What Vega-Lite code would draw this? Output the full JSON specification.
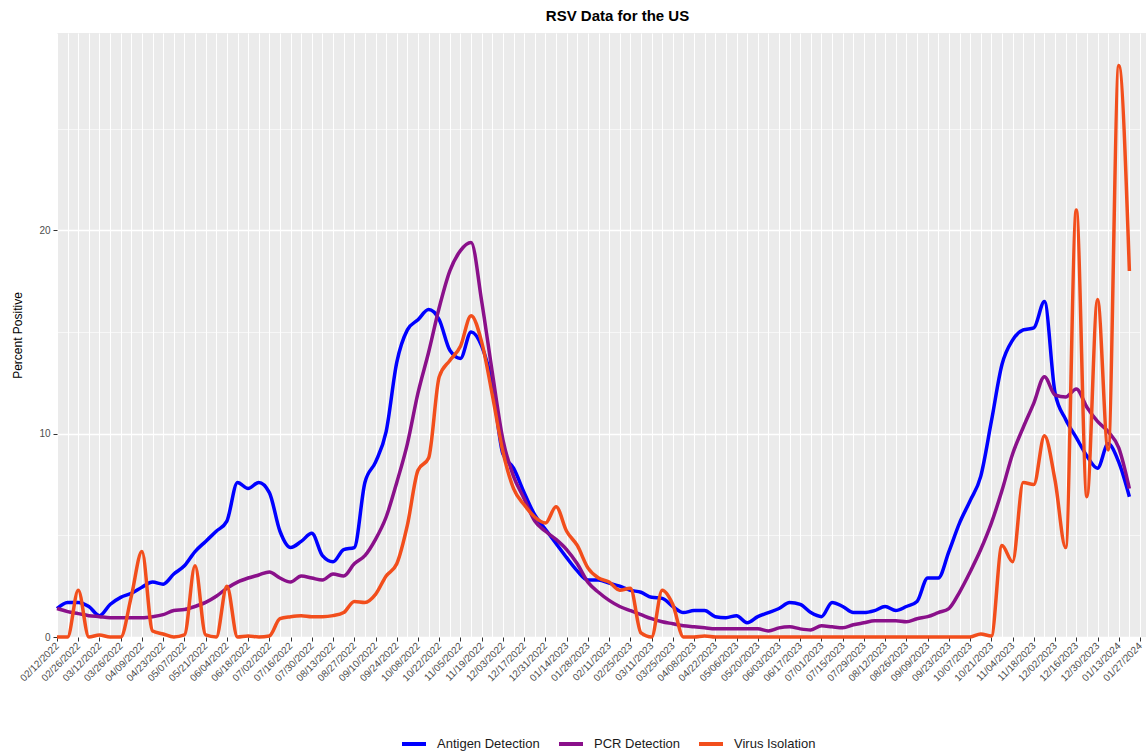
{
"$schema": "https://vega.github.io/schema/vega-lite/v6.json",
"width": 1089, "height": 604,
"autosize": {"type": "none"},
"padding": {"left": 57, "top": 33, "right": 0, "bottom": 117},
"background": "white",
"title": {"text": "RSV Data for the US", "fontSize": 15, "fontWeight": "bold", "font": "Liberation Sans", "color": "#000000", "anchor": "middle", "dx": 16, "offset": 9},
"data": {"values": [
{"date":"02/12/2022","antigen":1.4,"pcr":1.4,"virus":0},
{"date":"02/19/2022","antigen":1.7,"pcr":1.25,"virus":0},
{"date":"02/26/2022","antigen":1.7,"pcr":1.15,"virus":2.3},
{"date":"03/05/2022","antigen":1.5,"pcr":1.05,"virus":0},
{"date":"03/12/2022","antigen":1.05,"pcr":1.0,"virus":0.1},
{"date":"03/19/2022","antigen":1.6,"pcr":0.95,"virus":0},
{"date":"03/26/2022","antigen":1.95,"pcr":0.95,"virus":0},
{"date":"04/02/2022","antigen":2.15,"pcr":0.95,"virus":2.0},
{"date":"04/09/2022","antigen":2.45,"pcr":0.95,"virus":4.2},
{"date":"04/16/2022","antigen":2.7,"pcr":1.0,"virus":0.3},
{"date":"04/23/2022","antigen":2.6,"pcr":1.1,"virus":0.15},
{"date":"04/30/2022","antigen":3.1,"pcr":1.3,"virus":0},
{"date":"05/07/2022","antigen":3.5,"pcr":1.35,"virus":0.1},
{"date":"05/14/2022","antigen":4.2,"pcr":1.5,"virus":3.5},
{"date":"05/21/2022","antigen":4.7,"pcr":1.7,"virus":0.1},
{"date":"05/28/2022","antigen":5.2,"pcr":2.0,"virus":0},
{"date":"06/04/2022","antigen":5.7,"pcr":2.4,"virus":2.5},
{"date":"06/11/2022","antigen":7.6,"pcr":2.7,"virus":0},
{"date":"06/18/2022","antigen":7.3,"pcr":2.9,"virus":0.05},
{"date":"06/25/2022","antigen":7.6,"pcr":3.05,"virus":0},
{"date":"07/02/2022","antigen":7.1,"pcr":3.2,"virus":0.05},
{"date":"07/09/2022","antigen":5.2,"pcr":2.9,"virus":0.9},
{"date":"07/16/2022","antigen":4.4,"pcr":2.7,"virus":1.0},
{"date":"07/23/2022","antigen":4.7,"pcr":3.0,"virus":1.05},
{"date":"07/30/2022","antigen":5.1,"pcr":2.9,"virus":1.0},
{"date":"08/06/2022","antigen":4.0,"pcr":2.8,"virus":1.0},
{"date":"08/13/2022","antigen":3.7,"pcr":3.1,"virus":1.05},
{"date":"08/20/2022","antigen":4.3,"pcr":3.0,"virus":1.2},
{"date":"08/27/2022","antigen":4.4,"pcr":3.6,"virus":1.75},
{"date":"09/03/2022","antigen":7.6,"pcr":4.0,"virus":1.7},
{"date":"09/10/2022","antigen":8.6,"pcr":4.8,"virus":2.1},
{"date":"09/17/2022","antigen":10.1,"pcr":5.9,"virus":3.0},
{"date":"09/24/2022","antigen":13.5,"pcr":7.6,"virus":3.6},
{"date":"10/01/2022","antigen":15.1,"pcr":9.5,"virus":5.5},
{"date":"10/08/2022","antigen":15.6,"pcr":12.0,"virus":8.2},
{"date":"10/15/2022","antigen":16.1,"pcr":14.0,"virus":8.8},
{"date":"10/22/2022","antigen":15.6,"pcr":16.2,"virus":12.8},
{"date":"10/29/2022","antigen":14.1,"pcr":18.0,"virus":13.6},
{"date":"11/05/2022","antigen":13.7,"pcr":19.0,"virus":14.3},
{"date":"11/12/2022","antigen":15.0,"pcr":19.4,"virus":15.8},
{"date":"11/19/2022","antigen":14.3,"pcr":16.5,"virus":14.5},
{"date":"11/26/2022","antigen":12.4,"pcr":13.0,"virus":11.9},
{"date":"12/03/2022","antigen":9.0,"pcr":9.7,"virus":9.1},
{"date":"12/10/2022","antigen":8.3,"pcr":7.9,"virus":7.3},
{"date":"12/17/2022","antigen":7.1,"pcr":6.8,"virus":6.5},
{"date":"12/24/2022","antigen":6.0,"pcr":5.7,"virus":5.9},
{"date":"12/31/2022","antigen":5.3,"pcr":5.2,"virus":5.6},
{"date":"01/07/2023","antigen":4.6,"pcr":4.8,"virus":6.4},
{"date":"01/14/2023","antigen":3.9,"pcr":4.3,"virus":5.2},
{"date":"01/21/2023","antigen":3.25,"pcr":3.6,"virus":4.5},
{"date":"01/28/2023","antigen":2.8,"pcr":2.7,"virus":3.4},
{"date":"02/04/2023","antigen":2.8,"pcr":2.2,"virus":2.9},
{"date":"02/11/2023","antigen":2.65,"pcr":1.8,"virus":2.7},
{"date":"02/18/2023","antigen":2.5,"pcr":1.5,"virus":2.3},
{"date":"02/25/2023","antigen":2.3,"pcr":1.3,"virus":2.4},
{"date":"03/04/2023","antigen":2.2,"pcr":1.1,"virus":0.2},
{"date":"03/11/2023","antigen":1.95,"pcr":0.9,"virus":0},
{"date":"03/18/2023","antigen":1.9,"pcr":0.75,"virus":2.3},
{"date":"03/25/2023","antigen":1.5,"pcr":0.65,"virus":1.6},
{"date":"04/01/2023","antigen":1.2,"pcr":0.55,"virus":0},
{"date":"04/08/2023","antigen":1.3,"pcr":0.5,"virus":0},
{"date":"04/15/2023","antigen":1.3,"pcr":0.45,"virus":0.05},
{"date":"04/22/2023","antigen":1.0,"pcr":0.4,"virus":0},
{"date":"04/29/2023","antigen":0.95,"pcr":0.4,"virus":0},
{"date":"05/06/2023","antigen":1.05,"pcr":0.4,"virus":0},
{"date":"05/13/2023","antigen":0.7,"pcr":0.4,"virus":0},
{"date":"05/20/2023","antigen":1.0,"pcr":0.4,"virus":0},
{"date":"05/27/2023","antigen":1.2,"pcr":0.3,"virus":0},
{"date":"06/03/2023","antigen":1.4,"pcr":0.45,"virus":0},
{"date":"06/10/2023","antigen":1.7,"pcr":0.5,"virus":0},
{"date":"06/17/2023","antigen":1.6,"pcr":0.4,"virus":0},
{"date":"06/24/2023","antigen":1.2,"pcr":0.35,"virus":0},
{"date":"07/01/2023","antigen":1.0,"pcr":0.55,"virus":0},
{"date":"07/08/2023","antigen":1.7,"pcr":0.5,"virus":0},
{"date":"07/15/2023","antigen":1.5,"pcr":0.45,"virus":0},
{"date":"07/22/2023","antigen":1.2,"pcr":0.6,"virus":0},
{"date":"07/29/2023","antigen":1.2,"pcr":0.7,"virus":0},
{"date":"08/05/2023","antigen":1.3,"pcr":0.8,"virus":0},
{"date":"08/12/2023","antigen":1.5,"pcr":0.8,"virus":0},
{"date":"08/19/2023","antigen":1.3,"pcr":0.8,"virus":0},
{"date":"08/26/2023","antigen":1.5,"pcr":0.75,"virus":0},
{"date":"09/02/2023","antigen":1.75,"pcr":0.9,"virus":0},
{"date":"09/09/2023","antigen":2.9,"pcr":1.0,"virus":0},
{"date":"09/16/2023","antigen":2.9,"pcr":1.2,"virus":0},
{"date":"09/23/2023","antigen":4.2,"pcr":1.4,"virus":0},
{"date":"09/30/2023","antigen":5.6,"pcr":2.2,"virus":0},
{"date":"10/07/2023","antigen":6.7,"pcr":3.2,"virus":0},
{"date":"10/14/2023","antigen":7.9,"pcr":4.3,"virus":0.15},
{"date":"10/21/2023","antigen":10.6,"pcr":5.6,"virus":0.05},
{"date":"10/28/2023","antigen":13.4,"pcr":7.2,"virus":4.5},
{"date":"11/04/2023","antigen":14.6,"pcr":9.0,"virus":3.7},
{"date":"11/11/2023","antigen":15.1,"pcr":10.3,"virus":7.6},
{"date":"11/18/2023","antigen":15.2,"pcr":11.5,"virus":7.5},
{"date":"11/25/2023","antigen":16.5,"pcr":12.8,"virus":9.9},
{"date":"12/02/2023","antigen":12.0,"pcr":11.9,"virus":7.7},
{"date":"12/09/2023","antigen":10.7,"pcr":11.8,"virus":4.4},
{"date":"12/16/2023","antigen":9.8,"pcr":12.2,"virus":21.0},
{"date":"12/23/2023","antigen":8.9,"pcr":11.3,"virus":6.9},
{"date":"12/30/2023","antigen":8.3,"pcr":10.6,"virus":16.6},
{"date":"01/06/2024","antigen":9.5,"pcr":10.1,"virus":9.2},
{"date":"01/13/2024","antigen":8.6,"pcr":9.3,"virus":28.1},
{"date":"01/20/2024","antigen":6.9,"pcr":7.3,"virus":18.0}
]},
"transform": [{"fold": ["antigen", "pcr", "virus"], "as": ["series", "value"]}],
"mark": {"type": "line", "interpolate": "monotone", "strokeWidth": 3.5},
"encoding": {
  "x": {"field": "date", "type": "ordinal",
    "scale": {"type": "point", "padding": 0, "range": [0, 1083], "domain": ["02/12/2022","02/19/2022","02/26/2022","03/05/2022","03/12/2022","03/19/2022","03/26/2022","04/02/2022","04/09/2022","04/16/2022","04/23/2022","04/30/2022","05/07/2022","05/14/2022","05/21/2022","05/28/2022","06/04/2022","06/11/2022","06/18/2022","06/25/2022","07/02/2022","07/09/2022","07/16/2022","07/23/2022","07/30/2022","08/06/2022","08/13/2022","08/20/2022","08/27/2022","09/03/2022","09/10/2022","09/17/2022","09/24/2022","10/01/2022","10/08/2022","10/15/2022","10/22/2022","10/29/2022","11/05/2022","11/12/2022","11/19/2022","11/26/2022","12/03/2022","12/10/2022","12/17/2022","12/24/2022","12/31/2022","01/07/2023","01/14/2023","01/21/2023","01/28/2023","02/04/2023","02/11/2023","02/18/2023","02/25/2023","03/04/2023","03/11/2023","03/18/2023","03/25/2023","04/01/2023","04/08/2023","04/15/2023","04/22/2023","04/29/2023","05/06/2023","05/13/2023","05/20/2023","05/27/2023","06/03/2023","06/10/2023","06/17/2023","06/24/2023","07/01/2023","07/08/2023","07/15/2023","07/22/2023","07/29/2023","08/05/2023","08/12/2023","08/19/2023","08/26/2023","09/02/2023","09/09/2023","09/16/2023","09/23/2023","09/30/2023","10/07/2023","10/14/2023","10/21/2023","10/28/2023","11/04/2023","11/11/2023","11/18/2023","11/25/2023","12/02/2023","12/09/2023","12/16/2023","12/23/2023","12/30/2023","01/06/2024","01/13/2024","01/20/2024","01/27/2024"]},
    "axis": {"title": null, "domain": false, "grid": true, "gridColor": "#FFFFFF", "gridWidth": 1,
      "labelExpr": "indexof(domain('x'), datum.value) % 2 == 0 ? datum.value : ''",
      "labelAngle": -45, "labelAlign": "right", "labelBaseline": "middle", "labelPadding": 3,
      "labelFont": "Liberation Sans", "labelFontSize": 10, "labelColor": "#4D4D4D", "labelOverlap": false,
      "tickSize": 4, "tickColor": {"condition": {"test": "indexof(domain('x'), datum.value) % 2 == 1", "value": "transparent"}, "value": "#333333"}}
  },
  "y": {"field": "value", "type": "quantitative",
    "scale": {"domain": [0, 29.7], "nice": false, "zero": true},
    "axis": {"title": "Percent Positive", "values": [0, 5, 10, 15, 20, 25], "domain": false,
      "labelExpr": "datum.value % 10 == 0 ? datum.label : ''",
      "labelFont": "Liberation Sans", "labelFontSize": 10, "labelColor": "#4D4D4D", "labelPadding": 3,
      "tickSize": 4, "tickColor": {"condition": {"test": "datum.value % 10 != 0", "value": "transparent"}, "value": "#333333"},
      "gridColor": "#FFFFFF", "gridWidth": {"condition": {"test": "datum.value % 10 != 0", "value": 0.6}, "value": 1.3},
      "titleFont": "Liberation Sans", "titleFontSize": 12, "titleFontWeight": "normal", "titleColor": "#000000", "titlePadding": 14}
  },
  "color": {"field": "series", "type": "nominal",
    "scale": {"domain": ["antigen", "pcr", "virus"], "range": ["#0000FF", "#8A108A", "#F24E1C"]},
    "legend": {"title": null, "orient": "none", "direction": "horizontal", "legendX": 343, "legendY": 697, "padding": 0,
      "labelExpr": "{'antigen': 'Antigen Detection', 'pcr': 'PCR Detection', 'virus': 'Virus Isolation'}[datum.label]",
      "symbolType": "stroke", "symbolStrokeWidth": 4, "symbolSize": 576, "labelOffset": 9, "columnPadding": 11,
      "labelFont": "Liberation Sans", "labelFontSize": 13, "labelColor": "#1A1A1A"}
  }
},
"config": {"view": {"fill": "#EBEBEB", "stroke": null}}
}
